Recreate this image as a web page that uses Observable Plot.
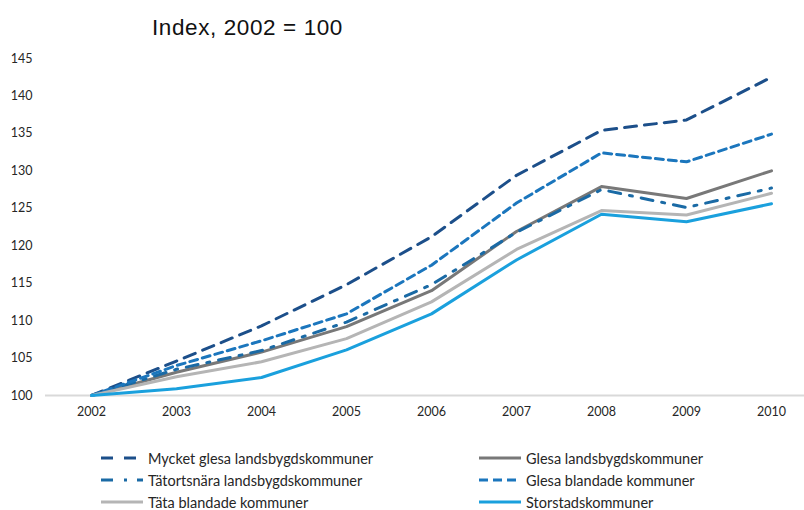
<!DOCTYPE html>
<html>
<head>
<meta charset="utf-8">
<script src="https://cdn.jsdelivr.net/npm/d3@7"></script>
<script src="https://cdn.jsdelivr.net/npm/@observablehq/plot@0.6"></script>
<style>
  body { margin: 0; background: #fff; width: 804px; height: 510px; overflow: hidden; position: relative; font-family: Lato, "Open Sans", sans-serif; }
  #title { position: absolute; left: 152px; top: 17px; font-family: "Liberation Sans", Arial, sans-serif; font-size: 22.5px; line-height: 22px; letter-spacing: 0.6px; color: #111; white-space: nowrap; }
  #chart { position: absolute; left: 0; top: 48px; }
  .leg { position: absolute; height: 20px; display: flex; align-items: center; white-space: nowrap; font-family: Lato, sans-serif; font-size: 14.5px; color: #262626; }
  .leg svg { margin-right: 5px; }
</style>
</head>
<body>
<div id="title">Index, 2002 = 100</div>
<div id="chart"></div>
<div id="legend"></div>
<script>
// ---- Data ----
const years = ["2002","2003","2004","2005","2006","2007","2008","2009","2010"];
const yTicks = [100,105,110,115,120,125,130,135,140,145];

const mycketGlesa    = [100, 104.6, 109.3, 114.8, 121.2, 129.4, 135.4, 136.8, 142.5];
const glesaLandsbygd = [100, 103.1, 105.8, 109.2, 114.0, 121.9, 127.9, 126.3, 130.0];
const tatortsnara    = [100, 103.5, 106.0, 109.8, 114.8, 121.8, 127.5, 125.1, 127.7];
const glesaBlandade  = [100, 104.0, 107.3, 110.9, 117.4, 125.7, 132.4, 131.2, 134.9];
const tataBlandade   = [100, 102.5, 104.5, 107.6, 112.5, 119.5, 124.7, 124.1, 127.0];
const storstad       = [100, 100.9, 102.4, 106.1, 110.9, 118.1, 124.2, 123.2, 125.6];

const seriesNames = [
  "Mycket glesa landsbygdskommuner",
  "Glesa landsbygdskommuner",
  "Tätortsnära landsbygdskommuner",
  "Glesa blandade kommuner",
  "Täta blandade kommuner",
  "Storstadskommuner"
];
const seriesValues = [mycketGlesa, glesaLandsbygd, tatortsnara, glesaBlandade, tataBlandade, storstad];

// ---- Styles ----
const styles = [
  {color: "#1c4f8a", dash: "12,8",     legDash: "12,11", legLen: 36},
  {color: "#787878", dash: null,       legDash: null,    legLen: 42},
  {color: "#1a6aa5", dash: "12,9,3,9", legDash: "12,11,3,10", legLen: 42},
  {color: "#1b76bd", dash: "8,5",      legDash: "9,5",   legLen: 37},
  {color: "#b5b5b5", dash: null,       legDash: null,    legLen: 42},
  {color: "#1aa0dd", dash: null,       legDash: null,    legLen: 42}
];

const data = [];
seriesNames.forEach((name, i) => {
  years.forEach((yr, j) => data.push({series: name, year: yr, value: seriesValues[i][j]}));
});

const chart = Plot.plot({
  width: 804,
  height: 382,
  marginTop: 10,
  marginBottom: 35,
  marginLeft: 88,
  marginRight: 31,
  style: {fontFamily: "Lato, sans-serif", fontSize: "12.5px", color: "#262626", background: "transparent"},
  x: {type: "point", domain: years, padding: 0, label: null, tickSize: 0, tickPadding: 12},
  y: {domain: [100, 145], ticks: yTicks, label: null, tickSize: 0, tickPadding: 56},
  marks: [
    Plot.ruleY([100], {stroke: "#d9d9d9", strokeWidth: 2, insetLeft: -43, insetRight: -31}),
    ...seriesNames.map((name, i) => Plot.line(data.filter(d => d.series === name), {
      x: "year", y: "value",
      stroke: styles[i].color,
      strokeWidth: 3,
      strokeDasharray: styles[i].dash || undefined
    }))
  ]
});
document.getElementById("chart").appendChild(chart);

// ---- Legend ----
const legend = document.getElementById("legend");
const colLeft = [101, 479];
const rowTop = [448, 470, 492];
seriesNames.forEach((name, i) => {
  const div = document.createElement("div");
  div.className = "leg";
  div.style.left = colLeft[i % 2] + "px";
  div.style.top = rowTop[Math.floor(i / 2)] + "px";
  const st = styles[i];
  div.innerHTML = `<svg width="42" height="6"><line x1="0" y1="3" x2="${st.legLen}" y2="3" stroke="${st.color}" stroke-width="3"${st.legDash ? ` stroke-dasharray="${st.legDash}"` : ""}/></svg><span>${name}</span>`;
  legend.appendChild(div);
});
</script>
</body>
</html>
